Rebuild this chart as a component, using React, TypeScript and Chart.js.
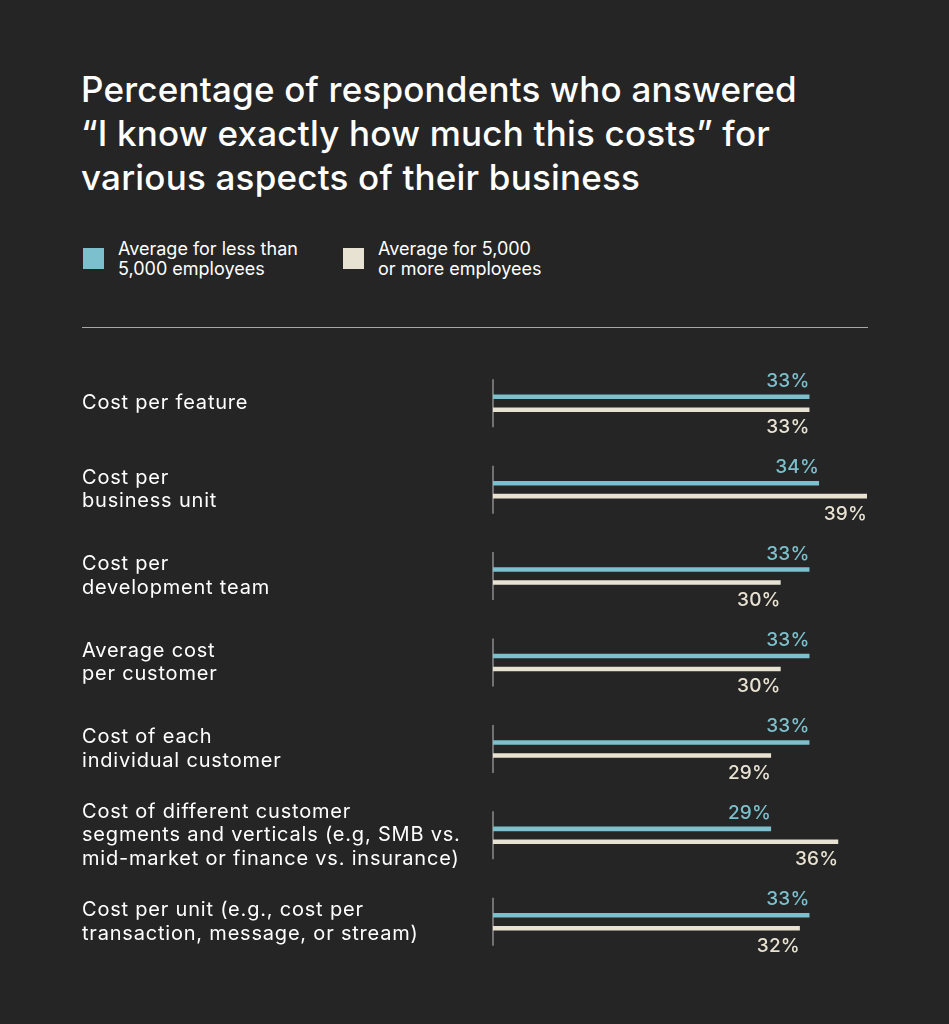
import React, { useEffect, useRef } from "react";
import { Chart, registerables } from "chart.js";

Chart.register(...registerables);

const categories: string[][] = [
  ["Cost per feature"],
  ["Cost per", "business unit"],
  ["Cost per", "development team"],
  ["Average cost", "per customer"],
  ["Cost of each", "individual customer"],
  ["Cost of different customer", "segments and verticals (e.g, SMB vs.", "mid-market or finance vs. insurance)"],
  ["Cost per unit (e.g., cost per", "transaction, message, or stream)"],
];
const smallCompanies = [33, 34, 33, 33, 33, 29, 33];
const largeCompanies = [33, 39, 30, 30, 29, 36, 32];
const seriesNames = ["Average for less than 5,000 employees", "Average for 5,000 or more employees"];

const BG = "#252525";
const BLUE = "#7bc0cc";
const CREAM = "#e8e2d2";
const FONT = "Inter, 'Noto Sans', sans-serif";

const spacingPlugin = {
  id: "spacing",
  beforeDraw(chart: any) {
    (chart.ctx as any).letterSpacing = "0.8px";
  },
};

const groupLinePlugin = {
  id: "groupLines",
  beforeDatasetsDraw(chart: any) {
    const { ctx, scales } = chart;
    const xs = scales.x;
    const ys = scales.y;
    const x0 = xs.getPixelForValue(0);
    ctx.save();
    ctx.strokeStyle = "#8c8c8c";
    ctx.lineWidth = 1.5;
    categories.forEach((_, i) => {
      const y = ys.getPixelForValue(i);
      ctx.beginPath();
      ctx.moveTo(x0, y - 24);
      ctx.lineTo(x0, y + 24);
      ctx.stroke();
    });
    ctx.restore();
  },
};

const valueLabelPlugin = {
  id: "valueLabels",
  afterDatasetsDraw(chart: any) {
    const { ctx } = chart;
    ctx.save();
    ctx.font = `500 19px ${FONT}`;
    (ctx as any).letterSpacing = "0.2px";
    ctx.textAlign = "right";
    chart.data.datasets.forEach((ds: any, di: number) => {
      const meta = chart.getDatasetMeta(di);
      meta.data.forEach((bar: any, i: number) => {
        const v = ds.data[i];
        const h = bar.height || 4;
        ctx.fillStyle = ds.backgroundColor;
        if (di === 0) {
          ctx.textBaseline = "bottom";
          ctx.fillText(`${v}%`, bar.x, bar.y - h / 2 - 4);
        } else {
          ctx.textBaseline = "top";
          ctx.fillText(`${v}%`, bar.x, bar.y + h / 2 + 6);
        }
      });
    });
    ctx.restore();
  },
};

export default function App() {
  const canvasRef = useRef<HTMLCanvasElement | null>(null);

  useEffect(() => {
    if (!canvasRef.current) return;
    const chart = new Chart(canvasRef.current, {
      type: "bar",
      data: {
        labels: categories,
        datasets: [
          {
            label: seriesNames[0],
            data: smallCompanies,
            backgroundColor: BLUE,
            categoryPercentage: 0.3,
            barPercentage: 0.35,
          },
          {
            label: seriesNames[1],
            data: largeCompanies,
            backgroundColor: CREAM,
            categoryPercentage: 0.3,
            barPercentage: 0.35,
          },
        ],
      },
      options: {
        indexAxis: "y",
        animation: false,
        responsive: false,
        maintainAspectRatio: false,
        layout: { padding: { left: 82, right: 82, top: 30, bottom: 30 } },
        plugins: {
          legend: { display: false },
          tooltip: { enabled: false },
          title: { display: false },
        },
        scales: {
          x: {
            display: false,
            min: 0,
            max: 39,
          },
          y: {
            border: { display: false },
            grid: { display: false },
            afterFit: (scale: any) => {
              scale.width = 411;
            },
            ticks: {
              crossAlign: "far",
              color: "#ffffff",
              font: { family: FONT, size: 20, lineHeight: 1.18 },
            },
          },
        },
      },
      plugins: [spacingPlugin, groupLinePlugin, valueLabelPlugin],
    });
    return () => chart.destroy();
  }, []);

  return (
    <div
      style={{
        position: "fixed",
        left: 0,
        top: 0,
        width: 949,
        height: 1024,
        background: BG,
        fontFamily: FONT,
        color: "#ffffff",
        overflow: "hidden",
      }}
    >
      <div
        style={{
          position: "absolute",
          left: 81,
          top: 67,
          width: 860,
          fontSize: 35,
          lineHeight: "44px",
          fontWeight: 500,
          letterSpacing: "0.2px",
          whiteSpace: "nowrap",
        }}
      >
        Percentage of respondents who answered
        <br />
        “I know exactly how much this costs” for
        <br />
        various aspects of their business
      </div>

      <div style={{ position: "absolute", left: 83, top: 248, width: 21, height: 21, background: BLUE }} />
      <div style={{ position: "absolute", left: 118, top: 239, fontSize: 18, lineHeight: "20px", whiteSpace: "nowrap" }}>
        Average for less than
        <br />
        5,000 employees
      </div>
      <div style={{ position: "absolute", left: 343, top: 248, width: 21, height: 21, background: CREAM }} />
      <div style={{ position: "absolute", left: 378, top: 239, fontSize: 18, lineHeight: "20px", whiteSpace: "nowrap" }}>
        Average for 5,000
        <br />
        or more employees
      </div>

      <div style={{ position: "absolute", left: 82, top: 327, width: 786, height: 1, background: "#a8a8a8" }} />

      <canvas
        ref={canvasRef}
        width={949}
        height={665}
        style={{ position: "absolute", left: 0, top: 330, width: 949, height: 665 }}
      />
    </div>
  );
}
